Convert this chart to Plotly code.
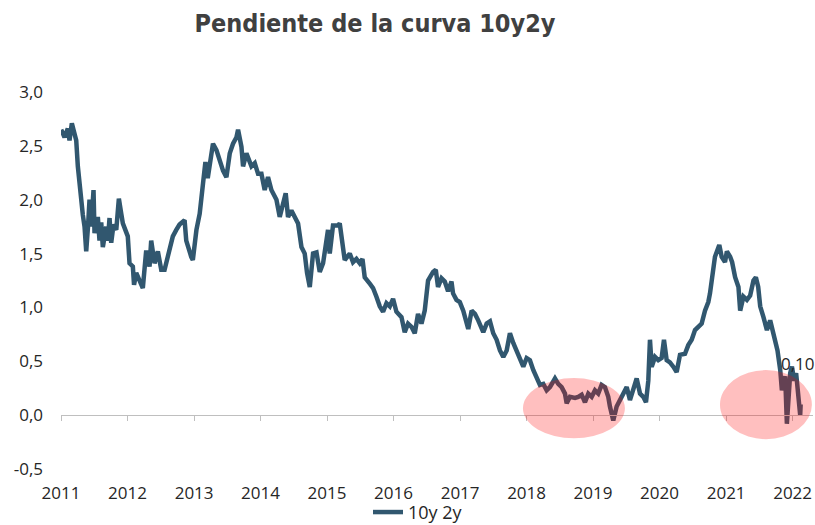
import plotly.graph_objects as go
import pandas as pd

# --- data (decimal year, spread value) ---
years = [
    2011.003, 2011.053, 2011.102, 2011.128, 2011.163, 2011.203, 2011.229, 2011.253, 2011.278, 2011.293,
    2011.309, 2011.328, 2011.354, 2011.379, 2011.406, 2011.429, 2011.454, 2011.489, 2011.504, 2011.554,
    2011.579, 2011.605, 2011.629, 2011.680, 2011.704, 2011.730, 2011.755, 2011.790, 2011.831, 2011.870,
    2011.906, 2011.930, 2012.005, 2012.031, 2012.081, 2012.099, 2012.132, 2012.181, 2012.231, 2012.282,
    2012.332, 2012.357, 2012.407, 2012.457, 2012.508, 2012.558, 2012.607, 2012.682, 2012.734, 2012.783,
    2012.859, 2012.884, 2012.959, 2012.983, 2013.035, 2013.084, 2013.134, 2013.170, 2013.205, 2013.235,
    2013.284, 2013.336, 2013.385, 2013.435, 2013.486, 2013.536, 2013.585, 2013.637, 2013.661, 2013.712,
    2013.736, 2013.787, 2013.862, 2013.912, 2013.962, 2014.013, 2014.062, 2014.112, 2014.163, 2014.239,
    2014.288, 2014.338, 2014.378, 2014.413, 2014.464, 2014.514, 2014.564, 2014.615, 2014.664, 2014.699,
    2014.740, 2014.789, 2014.841, 2014.890, 2014.940, 2015.015, 2015.041, 2015.090, 2015.166, 2015.191,
    2015.241, 2015.266, 2015.342, 2015.391, 2015.442, 2015.492, 2015.533, 2015.567, 2015.643, 2015.692,
    2015.743, 2015.793, 2015.843, 2015.894, 2015.944, 2015.993, 2016.044, 2016.120, 2016.169, 2016.219,
    2016.270, 2016.320, 2016.369, 2016.421, 2016.470, 2016.520, 2016.595, 2016.636, 2016.670, 2016.722,
    2016.771, 2016.821, 2016.872, 2016.896, 2016.947, 2016.997, 2017.047, 2017.122, 2017.173, 2017.223,
    2017.272, 2017.348, 2017.399, 2017.449, 2017.498, 2017.549, 2017.599, 2017.649, 2017.700, 2017.749,
    2017.799, 2017.850, 2017.900, 2017.950, 2018.001, 2018.050, 2018.100, 2018.151, 2018.201, 2018.251,
    2018.302, 2018.351, 2018.427, 2018.476, 2018.527, 2018.577, 2018.603, 2018.652, 2018.728, 2018.777,
    2018.828, 2018.878, 2018.928, 2018.979, 2019.029, 2019.078, 2019.129, 2019.179, 2019.229, 2019.254,
    2019.304, 2019.355, 2019.405, 2019.454, 2019.506, 2019.555, 2019.605, 2019.656, 2019.706, 2019.755,
    2019.796, 2019.831, 2019.856, 2019.882, 2019.932, 2019.981, 2020.032, 2020.067, 2020.108, 2020.157,
    2020.207, 2020.258, 2020.308, 2020.383, 2020.433, 2020.484, 2020.534, 2020.583, 2020.634, 2020.684,
    2020.734, 2020.759, 2020.809, 2020.834, 2020.899, 2020.935, 2020.985, 2021.011, 2021.060, 2021.090,
    2021.135, 2021.185, 2021.211, 2021.260, 2021.312, 2021.361, 2021.411, 2021.447, 2021.482, 2021.512,
    2021.561, 2021.613, 2021.662, 2021.712, 2021.772, 2021.813, 2021.838, 2021.862, 2021.888, 2021.913,
    2021.938, 2021.963, 2021.989, 2022.023, 2022.053, 2022.088, 2022.114, 2022.121,
]
spread = [
    2.65, 2.58, 2.66, 2.55, 2.71, 2.62, 2.55, 2.31, 2.12, 2.09,
    1.90, 1.86, 1.75, 1.52, 1.75, 2.00, 1.75, 2.09, 1.69, 1.84,
    1.62, 1.79, 1.56, 1.75, 1.62, 1.83, 1.60, 1.77, 1.72, 2.01,
    1.87, 1.78, 1.66, 1.41, 1.38, 1.21, 1.32, 1.25, 1.18, 1.53,
    1.38, 1.62, 1.41, 1.52, 1.35, 1.35, 1.47, 1.66, 1.72, 1.77,
    1.81, 1.62, 1.47, 1.44, 1.72, 1.87, 2.15, 2.35, 2.20, 2.31,
    2.52, 2.46, 2.37, 2.27, 2.21, 2.43, 2.52, 2.58, 2.65, 2.49,
    2.31, 2.43, 2.31, 2.34, 2.24, 2.24, 2.09, 2.21, 2.09, 2.00,
    1.84, 1.96, 2.06, 1.84, 1.90, 1.84, 1.78, 1.56, 1.50, 1.32,
    1.19, 1.50, 1.51, 1.33, 1.41, 1.72, 1.50, 1.76, 1.76, 1.78,
    1.53, 1.44, 1.50, 1.42, 1.45, 1.41, 1.45, 1.28, 1.22, 1.18,
    1.10, 1.01, 0.96, 1.04, 1.01, 1.08, 0.96, 0.91, 0.77, 0.85,
    0.82, 0.76, 0.94, 0.85, 0.97, 1.25, 1.33, 1.35, 1.19, 1.27,
    1.24, 1.15, 1.24, 1.13, 1.07, 1.05, 0.97, 0.80, 0.97, 0.94,
    0.88, 0.77, 0.85, 0.87, 0.76, 0.70, 0.60, 0.54, 0.60, 0.76,
    0.67, 0.60, 0.51, 0.45, 0.53, 0.51, 0.42, 0.36, 0.28, 0.29,
    0.23, 0.26, 0.34, 0.29, 0.26, 0.20, 0.11, 0.17, 0.16, 0.17,
    0.19, 0.12, 0.20, 0.17, 0.23, 0.20, 0.28, 0.26, 0.17, 0.08,
    -0.05, 0.08, 0.14, 0.19, 0.26, 0.14, 0.23, 0.34, 0.20, 0.17,
    0.12, 0.32, 0.70, 0.45, 0.54, 0.51, 0.53, 0.70, 0.51, 0.49,
    0.45, 0.40, 0.56, 0.57, 0.65, 0.70, 0.79, 0.82, 0.85, 0.97,
    1.05, 1.13, 1.35, 1.47, 1.58, 1.47, 1.42, 1.52, 1.47, 1.42,
    1.28, 1.19, 0.97, 1.10, 1.07, 1.11, 1.25, 1.28, 1.19, 1.01,
    0.91, 0.79, 0.88, 0.73, 0.60, 0.42, 0.23, 0.30, 0.36, -0.08,
    0.26, 0.39, 0.45, 0.32, 0.39, 0.17, 0.00, 0.10,
]
series_name = "10y 2y"
title_text = "Pendiente de la curva 10y2y"
y_ticks = [-0.5, 0.0, 0.5, 1.0, 1.5, 2.0, 2.5, 3.0]
y_tick_labels = ["-0,5", "0,0", "0,5", "1,0", "1,5", "2,0", "2,5", "3,0"]

# highlighted periods (ellipses)
ell_x0 = ["2017-12-12", "2020-11-28"]
ell_x1 = ["2019-06-25", "2022-04-17"]
ell_y0 = [-0.214, -0.223]
ell_y1 = [0.344, 0.418]

x_start, x_end = "2011-01-01", "2022-04-23"
y_min, y_max = -0.5, 3.0


def yr_to_date(y):
    yi = int(y)
    return pd.Timestamp(yi, 1, 1) + pd.Timedelta(days=(y - yi) * 365.25)


dates = [yr_to_date(y) for y in years]
last_label = f"{spread[-1]:.2f}".replace(".", ",")

LINE = "#31576F"
TXT = "#262626"
FONT = "Open Sans"

fig = go.Figure()
fig.add_trace(go.Scatter(
    x=dates, y=spread, mode="lines", name=series_name,
    line=dict(color=LINE, width=4.5), showlegend=True,
))
# helper (invisible) trace so the zero-line axis is drawn
fig.add_trace(go.Scatter(
    x=dates[:1], y=spread[:1], xaxis="x2", mode="markers",
    marker=dict(opacity=0), showlegend=False, hoverinfo="skip",
))

for a, b, c, d in zip(ell_x0, ell_x1, ell_y0, ell_y1):
    fig.add_shape(type="circle", xref="x", yref="y", x0=a, x1=b, y0=c, y1=d,
                  fillcolor="rgba(255,0,0,0.25)", line=dict(width=0), layer="above")

fig.add_annotation(x=dates[-1], y=0.48, xref="x", yref="y", text=last_label,
                   showarrow=False, xanchor="center", yanchor="middle", xshift=-3,
                   font=dict(family=FONT, size=17, color=TXT))

fig.update_layout(
    width=815, height=525,
    margin=dict(l=61, r=2, t=92, b=56, autoexpand=False),
    paper_bgcolor="white", plot_bgcolor="white",
    separators=",.",
    title=dict(text=f"<b>{title_text}</b>", x=375 / 815, xanchor="center",
               y=1 - 23 / 525, yanchor="middle",
               font=dict(family="DejaVu Sans Condensed", size=25, color="#404040")),
    showlegend=True,
    legend=dict(orientation="h", x=(368 - 61) / 752, xanchor="left",
                y=-0.115, yanchor="middle",
                font=dict(family=FONT, size=18, color=TXT),
                bgcolor="rgba(0,0,0,0)"),
    xaxis=dict(type="date", range=[x_start, x_end], showgrid=False, zeroline=False,
               showline=False, ticks="", tick0="2011-01-01", dtick="M12",
               tickformat="%Y", ticklabelstandoff=12,
               tickfont=dict(family=FONT, size=17, color=TXT)),
    xaxis2=dict(type="date", matches="x", overlaying="x", anchor="free",
                position=(0 - y_min) / (y_max - y_min), side="bottom",
                showline=True, linecolor="#BFBFBF", linewidth=1,
                ticks="outside", ticklen=5, tickcolor="#BFBFBF", tickwidth=1,
                tick0="2011-01-01", dtick="M12", showticklabels=False,
                showgrid=False, zeroline=False),
    yaxis=dict(range=[y_min, y_max], tickmode="array", tickvals=y_ticks,
               ticktext=y_tick_labels, showgrid=False,
               zeroline=False, showline=False, ticks="", ticklabelstandoff=17,
               tickfont=dict(family=FONT, size=17, color=TXT)),
)

fig.write_html("out.html", config={"displayModeBar": False},
               post_script="document.body.style.margin='0';document.body.style.padding='0';")
